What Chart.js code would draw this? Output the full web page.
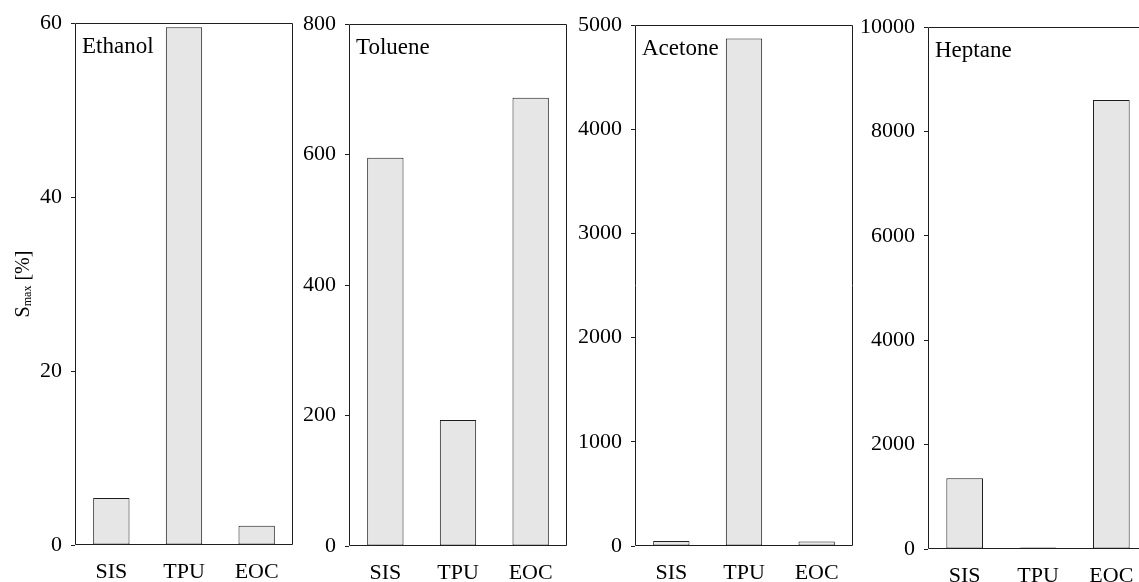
<!DOCTYPE html>
<html>
<head>
<meta charset="utf-8">
<script src="https://cdn.jsdelivr.net/npm/chart.js@4.4.1/dist/chart.umd.min.js"></script>
<style>
  html, body { margin: 0; padding: 0; background: #fff; overflow: hidden; width: 1139px; height: 582px; }
  .panel { position: absolute; top: 0; overflow: visible; }
  canvas { display: block; }
</style>
</head>
<body>
<div class="panel" id="p0"><canvas id="c0"></canvas></div>
<div class="panel" id="p1"><canvas id="c1"></canvas></div>
<div class="panel" id="p2"><canvas id="c2"></canvas></div>
<div class="panel" id="p3"><canvas id="c3"></canvas></div>
<script>
// Maximum swelling S_max [%] of three elastomers in four solvents
const categories = ['SIS', 'TPU', 'EOC'];
const solvents = ['Ethanol', 'Toluene', 'Acetone', 'Heptane'];
const ethanolSwelling = [5.4, 59.5, 2.2];
const tolueneSwelling = [595, 193, 687];
const acetoneSwelling = [48, 4870, 42];
const heptaneSwelling = [1355, 30, 8600];
const yMax = [60, 800, 5000, 10000];
const yStep = [20, 200, 1000, 2000];

const seriesBySolvent = [ethanolSwelling, tolueneSwelling, acetoneSwelling, heptaneSwelling];

// plot frame of each panel, in page pixels; the last panel runs past the page edge
const frames = [
  { left: 75,  right: 293,  top: 23, bottom: 545, axisWidth: 75, closed: true },
  { left: 349, right: 567,  top: 24, bottom: 546, axisWidth: 80, closed: true },
  { left: 635, right: 853,  top: 25, bottom: 546, axisWidth: 80, closed: true },
  { left: 928, right: 1148, top: 27, bottom: 549, axisWidth: 80, closed: false }
];

const H = 582;
const RIGHT_PAD = 4;
const SERIF = "'Liberation Serif', 'Times New Roman', serif";
const INK = '#1e1e1e';

// box around the plot area plus the solvent name in its corner
const framePlugin = {
  id: 'panelFrame',
  afterDatasetsDraw(chart, args, opts) {
    const { ctx, chartArea: a } = chart;
    ctx.save();
    ctx.strokeStyle = INK;
    ctx.lineWidth = 1;
    const l = Math.round(a.left) + 0.5, r = Math.round(a.right) - 0.5;
    const t = Math.round(a.top) + 0.5, b = Math.round(a.bottom) - 0.5;
    ctx.beginPath();
    ctx.moveTo(r, t); ctx.lineTo(l, t); ctx.lineTo(l, b); ctx.lineTo(r, b);
    if (opts.closed) { ctx.moveTo(r, t); ctx.lineTo(r, b); }
    ctx.stroke();
    ctx.fillStyle = '#000';
    ctx.font = '23px ' + SERIF;
    ctx.textBaseline = 'alphabetic';
    ctx.textAlign = 'left';
    ctx.fillText(opts.name, a.left + 7, a.top + 30);
    ctx.restore();
  }
};

// y-axis title "S_max [%]" with a subscript, on the first panel only
const yTitlePlugin = {
  id: 'yTitle',
  afterDraw(chart, args, opts) {
    if (!opts.show) return;
    const { ctx } = chart;
    ctx.save();
    ctx.translate(22, (chart.chartArea.top + chart.chartArea.bottom) / 2);
    ctx.rotate(-Math.PI / 2);
    ctx.fillStyle = '#000';
    ctx.textBaseline = 'alphabetic';
    ctx.textAlign = 'left';
    const big = '20px ' + SERIF, small = '12px ' + SERIF;
    ctx.font = big;
    const wS = ctx.measureText('S').width;
    ctx.font = small;
    const wSub = ctx.measureText('max').width;
    ctx.font = big;
    const wRest = ctx.measureText(' [%]').width;
    let x = -(wS + wSub + wRest) / 2;
    ctx.fillText('S', x, 7);
    x += wS;
    ctx.font = small;
    ctx.fillText('max', x, 9);
    x += wSub;
    ctx.font = big;
    ctx.fillText(' [%]', x, 7);
    ctx.restore();
  }
};

frames.forEach((f, i) => {
  const holder = document.getElementById('p' + i);
  const canvas = document.getElementById('c' + i);
  const w = f.axisWidth + (f.right - f.left) + RIGHT_PAD;
  holder.style.left = (f.left - f.axisWidth) + 'px';
  holder.style.width = w + 'px';
  holder.style.height = H + 'px';
  canvas.width = w;
  canvas.height = H;
  canvas.style.width = w + 'px';
  canvas.style.height = H + 'px';

  new Chart(canvas, {
    type: 'bar',
    data: {
      labels: categories,
      datasets: [{
        label: solvents[i],
        data: seriesBySolvent[i],
        backgroundColor: '#e6e6e6',
        borderColor: INK,
        borderWidth: 1,
        borderSkipped: false,
        barPercentage: 0.5,
        categoryPercentage: 1.0
      }]
    },
    options: {
      responsive: false,
      animation: false,
      devicePixelRatio: 1,
      layout: { padding: { top: f.top, right: RIGHT_PAD, left: 0, bottom: 0 } },
      plugins: {
        legend: { display: false },
        tooltip: { enabled: false },
        panelFrame: { name: solvents[i], closed: f.closed },
        yTitle: { show: i === 0 }
      },
      scales: {
        x: {
          offset: true,
          border: { display: false },
          grid: { display: false, drawTicks: false },
          ticks: {
            color: '#000',
            padding: 14,
            font: { family: SERIF, size: 22 }
          },
          afterFit(scale) { scale.height = H - f.bottom; }
        },
        y: {
          min: 0,
          max: yMax[i],
          border: { display: false },
          grid: {
            display: true,
            drawOnChartArea: false,
            drawTicks: true,
            tickLength: 4,
            color: INK
          },
          ticks: {
            stepSize: yStep[i],
            color: '#000',
            padding: 9,
            font: { family: SERIF, size: 22 },
            callback: (v) => String(v)
          },
          afterFit(scale) { scale.width = f.axisWidth; }
        }
      }
    },
    plugins: [framePlugin, yTitlePlugin]
  });
});
</script>
</body>
</html>
